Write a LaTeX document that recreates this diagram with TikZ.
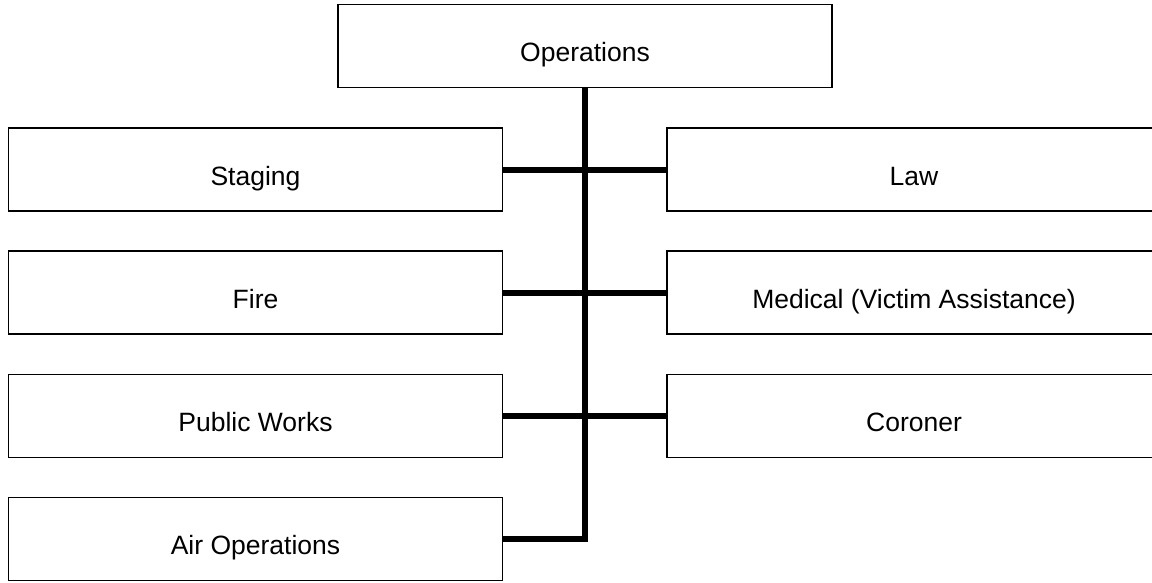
\documentclass[tikz,border=0pt]{standalone}
\usepackage{fontspec}
\setmainfont{Liberation Sans}
\begin{document}
\begin{tikzpicture}[x=1pt,y=1pt,
  orgbox/.style={draw=black, line width=1.8pt, fill=white, rectangle, inner sep=0pt,
    minimum width=494pt, minimum height=83pt, text height=31pt, text depth=0pt,
    font=\fontsize{26.5}{30}\selectfont},
  link/.style={draw=black, line width=6pt}]
\useasboundingbox (0,0) rectangle (1152,-582);
\clip (0,0) rectangle (1152,-582);
\fill[white] (0,0) rectangle (1152,-582);
% connectors (behind boxes)
\coordinate (turn) at (585,-539);
\node[orgbox] (ops) at (585,-46) {Operations};
\node[orgbox] (staging) at (255.5,-169.5) {Staging};
\node[orgbox] (law) at (914,-169.5) {Law};
\node[orgbox] (fire) at (255.5,-292.5) {Fire};
\node[orgbox] (medical) at (914,-292.5) {Medical (Victim Assistance)};
\node[orgbox] (public) at (255.5,-416) {Public Works};
\node[orgbox] (coroner) at (914,-416) {Coroner};
\node[orgbox] (air) at (255.5,-539) {Air Operations};
\draw[link] (ops.south) -- (ops.south |- air.east) -- (air.east);
\draw[link] (staging.east) -- (law.west);
\draw[link] (fire.east) -- (medical.west);
\draw[link] (public.east) -- (coroner.west);
\end{tikzpicture}
\end{document}
